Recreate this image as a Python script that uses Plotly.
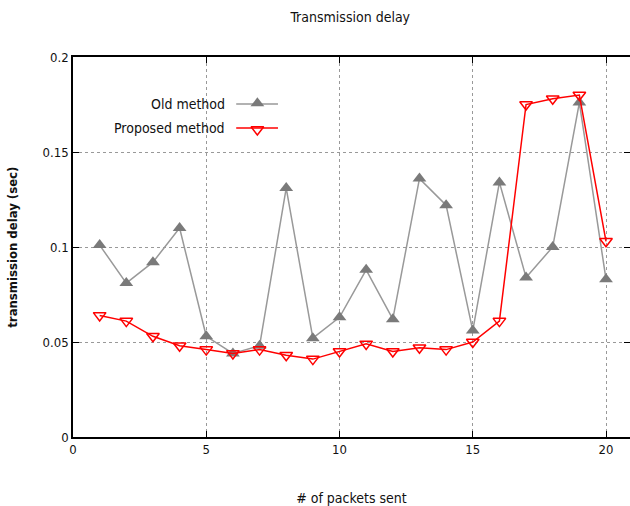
import plotly.graph_objects as go

packets = list(range(1, 21))
old_method = [0.101, 0.081, 0.092, 0.110, 0.053, 0.044, 0.048, 0.131, 0.052, 0.063,
              0.088, 0.062, 0.136, 0.122, 0.056, 0.134, 0.084, 0.100, 0.176, 0.083]
proposed_method = [0.064, 0.061, 0.053, 0.048, 0.046, 0.044, 0.046, 0.043, 0.041, 0.045,
                   0.049, 0.045, 0.047, 0.046, 0.050, 0.061, 0.175, 0.178, 0.180, 0.103]
series_names = ["Old method", "Proposed method"]
x_ticks = [0, 5, 10, 15, 20]
y_ticks = [0, 0.05, 0.1, 0.15, 0.2]
y_tick_labels = ["0", "0.05", "0.1", "0.15", "0.2"]

FONT = "DejaVu Sans Condensed"
GRAY_LINE = "#999999"
GRAY_MARK = "#7a7a7a"
RED = "#ff0000"

fig = go.Figure()
fig.add_trace(go.Scatter(x=packets, y=old_method, mode="lines+markers", name=series_names[0],
                         line=dict(color=GRAY_LINE, width=1.5),
                         marker=dict(symbol="triangle-up", size=12, color=GRAY_MARK),
                         showlegend=False))
fig.add_trace(go.Scatter(x=packets, y=proposed_method, mode="lines+markers", name=series_names[1],
                         line=dict(color=RED, width=1.5),
                         marker=dict(symbol="triangle-down-open", size=11, color=RED,
                                     line=dict(width=1.5)),
                         showlegend=False))

# legend samples on an overlay axis in paper-like units (0..1)
fig.add_trace(go.Scatter(x=[0.293, 0.331, 0.368], y=[0.876, 0.876, 0.876], mode="lines",
                         line=dict(color=GRAY_LINE, width=1.5), xaxis="x2", yaxis="y2",
                         showlegend=False, hoverinfo="skip"))
fig.add_trace(go.Scatter(x=[0.331], y=[0.878], mode="markers",
                         marker=dict(symbol="triangle-up", size=12, color=GRAY_MARK),
                         xaxis="x2", yaxis="y2", showlegend=False, hoverinfo="skip"))
fig.add_trace(go.Scatter(x=[0.293, 0.331, 0.368], y=[0.813, 0.813, 0.813], mode="lines",
                         line=dict(color=RED, width=1.5), xaxis="x2", yaxis="y2",
                         showlegend=False, hoverinfo="skip"))
fig.add_trace(go.Scatter(x=[0.331], y=[0.809], mode="markers",
                         marker=dict(symbol="triangle-down-open", size=11, color=RED,
                                     line=dict(width=1.5)),
                         xaxis="x2", yaxis="y2", showlegend=False, hoverinfo="skip"))

for name, yy in zip(series_names, [0.876, 0.813]):
    fig.add_annotation(text=name, x=0.277, y=yy, xref="paper", yref="paper",
                       xanchor="right", yanchor="middle", showarrow=False,
                       font=dict(family=FONT, size=14, color="#111111"))

# y-axis title as a rotated annotation
fig.add_annotation(text="<b>transmission delay (sec)</b>", textangle=-90,
                   x=-0.110, y=0.5, xref="paper", yref="paper",
                   xanchor="center", yanchor="middle", showarrow=False,
                   font=dict(family=FONT, size=13, color="#111111"))

axis_common = dict(showline=True, linecolor="#000000", linewidth=1.5, mirror="ticks",
                   ticks="inside", ticklen=6, tickcolor="#000000", tickwidth=1.2,
                   showgrid=True, gridcolor="#999999", griddash="dot", gridwidth=1,
                   zeroline=False, automargin=False,
                   tickfont=dict(family=FONT, size=13, color="#111111"))

fig.update_layout(
    width=630, height=506,
    margin=dict(l=73, r=0, t=57, b=69),
    plot_bgcolor="white", paper_bgcolor="white",
    title=dict(text="Transmission delay", x=0.556, xanchor="center", y=0.966, yanchor="middle",
               font=dict(family=FONT, size=14, color="#111111"), automargin=False),
    xaxis=dict(range=[0, 20.9], tickvals=x_ticks, **axis_common,
               title=dict(text="# of packets sent", standoff=37,
                          font=dict(family=FONT, size=14, color="#111111"))),
    yaxis=dict(range=[0, 0.2], tickvals=y_ticks, ticktext=y_tick_labels, **axis_common),
    xaxis2=dict(range=[0, 1], overlaying="x", visible=False, domain=[0, 1]),
    yaxis2=dict(range=[0, 1], overlaying="y", visible=False),
)

fig.write_html("out.html", config={"displayModeBar": False},
               post_script="document.body.style.margin='0';document.body.style.overflow='hidden';")
